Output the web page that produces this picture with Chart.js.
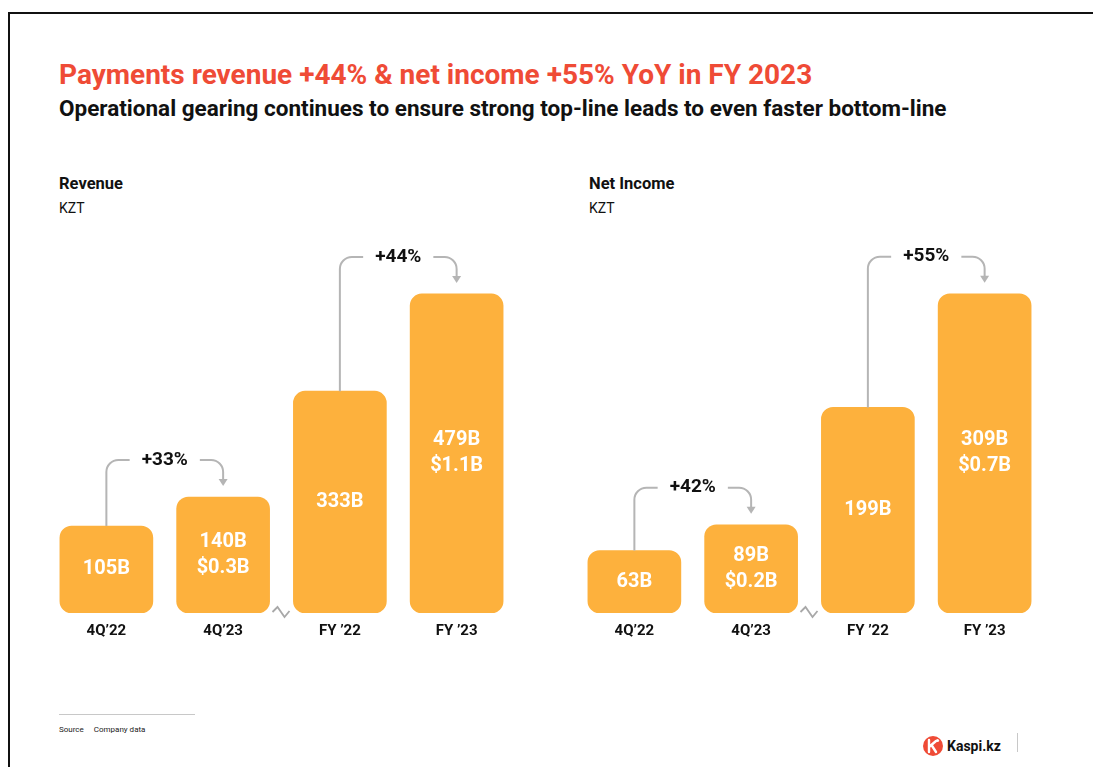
<!DOCTYPE html>
<html>
<head>
<meta charset="utf-8">
<script src="https://cdn.jsdelivr.net/npm/chart.js@4.4.0/dist/chart.umd.min.js"></script>
<style>
    body {
        margin: 0;
        width: 1093px;
        height: 767px;
        position: relative;
        overflow: hidden;
        background: #fff;
        font-family: Roboto, 'Noto Sans', sans-serif;
        color: #111;
    }
    .frame {
        position: absolute;
        left: 8px;
        top: 12px;
        width: 1100px;
        height: 770px;
        border-top: 2px solid #111;
        border-left: 2px solid #111;
    }
    .title {
        position: absolute;
        left: 59px;
        top: 59px;
        line-height: 32px;
        font-size: 28px;
        font-weight: 700;
        color: #ef4b36;
        white-space: nowrap;
    }
    .subtitle {
        position: absolute;
        left: 59px;
        top: 95px;
        line-height: 26px;
        font-size: 22.5px;
        font-weight: 700;
        white-space: nowrap;
    }
    .panel-head {
        position: absolute;
        top: 173px;
        font-size: 16.5px;
        line-height: 22px;
    }
    .panel-head b { display: block; }
    .panel-head span { display: block; font-size: 14px; margin-top: 2px; }
    .chart-box {
        position: absolute;
        top: 230px;
        width: 467px;
        height: 411px;
    }
    .footer-rule {
        position: absolute;
        left: 59px;
        top: 714px;
        width: 136px;
        height: 1px;
        background: #c8c8c8;
    }
    .source {
        position: absolute;
        left: 59px;
        top: 725px;
        font-size: 8px;
        line-height: 10px;
        color: #222;
    }
    .source span { margin-left: 10px; }
    .brand {
        position: absolute;
        left: 923px;
        top: 736px;
        height: 20px;
        display: flex;
        align-items: center;
        font-size: 14px;
        font-weight: 700;
    }
    .brand svg { margin-right: 4px; }
    .brand-rule {
        position: absolute;
        left: 1017px;
        top: 733px;
        width: 1px;
        height: 19px;
        background: #c8c8c8;
    }
</style>
</head>
<body>
<div class="frame"></div>
<div class="title">Payments revenue +44% &amp; net income +55% YoY in FY 2023</div>
<div class="subtitle">Operational gearing continues to ensure strong top-line leads to even faster bottom-line</div>

<div class="panel-head" style="left:59px"><b>Revenue</b><span>KZT</span></div>
<div class="panel-head" style="left:589px"><b>Net Income</b><span>KZT</span></div>

<div class="chart-box" style="left:48px"><canvas id="revenue-chart"></canvas></div>
<div class="chart-box" style="left:576px"><canvas id="income-chart"></canvas></div>

<div class="footer-rule"></div>
<div class="source">Source<span>Company data</span></div>
<div class="brand">
    <svg width="20" height="20" viewBox="0 0 20 20">
        <circle cx="10" cy="10" r="10" fill="#ef4b36"/>
        <path d="M6 4 L6 16 M6 11 L13 5 M8.5 9 L13 16" stroke="#fff" stroke-width="2.4" fill="none" stroke-linecap="round"/>
        <circle cx="14.5" cy="4.5" r="1.6" fill="#fff"/>
    </svg>
    Kaspi.kz
</div>
<div class="brand-rule"></div>

<script>
// Periods on the x axis (quarters first, then full years)
const periods = ['4Q\u201922', '4Q\u201923', 'FY \u201922', 'FY \u201923'];

// KZT billions
const revenue = [105, 140, 333, 479];
const netIncome = [63, 89, 199, 309];

// USD equivalents shown under the current-year bars
const revenueUsd = [null, '$0.3B', null, '$1.1B'];
const netIncomeUsd = [null, '$0.2B', null, '$0.7B'];

// YoY growth callouts: [from index, to index, label]
const revenueGrowth = [[0, 1, '+33%'], [2, 3, '+44%']];
const netIncomeGrowth = [[0, 1, '+42%'], [2, 3, '+55%']];

const barColor = '#fdb13d';
const connectorColor = '#b5b5b5';

// Quarterly and yearly bars sit on separate (broken) scales
function splitSeries(values) {
    return {
        quarter: values.map((v, i) => (i < 2 ? v : null)),
        year: values.map((v, i) => (i >= 2 ? v : null)),
    };
}

function barAt(chart, index) {
    for (let d = 0; d < chart.data.datasets.length; d++) {
        if (chart.data.datasets[d].data[index] != null) {
            return chart.getDatasetMeta(d).data[index];
        }
    }
    return null;
}

const barLabels = {
    id: 'barLabels',
    afterDatasetsDraw(chart, args, opts) {
        const ctx = chart.ctx;
        ctx.save();
        ctx.fillStyle = '#fff';
        ctx.font = 'bold 20px Roboto';
        ctx.textAlign = 'center';
        ctx.textBaseline = 'middle';
        chart.data.datasets.forEach((ds, d) => {
            chart.getDatasetMeta(d).data.forEach((bar, i) => {
                if (ds.data[i] == null) return;
                const lines = [ds.data[i] + 'B'];
                if (opts.usd[i]) lines.push(opts.usd[i]);
                const mid = (bar.y + bar.base) / 2;
                lines.forEach((text, k) => {
                    ctx.fillText(text, bar.x, mid + (k - (lines.length - 1) / 2) * 26);
                });
            });
        });
        ctx.restore();
    }
};

const growthArrows = {
    id: 'growthArrows',
    afterDatasetsDraw(chart, args, opts) {
        const ctx = chart.ctx;
        ctx.save();
        ctx.font = 'bold 19px Roboto';
        ctx.textAlign = 'center';
        ctx.textBaseline = 'middle';
        opts.pairs.forEach(([from, to, label]) => {
            const a = barAt(chart, from);
            const b = barAt(chart, to);
            const lineY = b.y - 37;
            const tipY = b.y - 11;
            const midX = (a.x + b.x) / 2;
            const gap = ctx.measureText(label).width / 2 + 12;
            const r = 12;

            ctx.strokeStyle = connectorColor;
            ctx.lineWidth = 2;
            ctx.beginPath();
            ctx.moveTo(a.x, a.y);
            ctx.lineTo(a.x, lineY + r);
            ctx.arcTo(a.x, lineY, a.x + r, lineY, r);
            ctx.lineTo(midX - gap, lineY);
            ctx.moveTo(midX + gap, lineY);
            ctx.lineTo(b.x - r, lineY);
            ctx.arcTo(b.x, lineY, b.x, lineY + r, r);
            ctx.lineTo(b.x, tipY - 6);
            ctx.stroke();

            ctx.fillStyle = connectorColor;
            ctx.beginPath();
            ctx.moveTo(b.x - 4.5, tipY - 7);
            ctx.lineTo(b.x + 4.5, tipY - 7);
            ctx.lineTo(b.x, tipY);
            ctx.closePath();
            ctx.fill();

            ctx.fillStyle = '#111';
            ctx.fillText(label, midX, lineY);
        });

        // axis break mark between the quarter and year groups
        const q = barAt(chart, 1);
        const y = barAt(chart, 2);
        const bx = (q.x + y.x) / 2;
        const by = chart.chartArea.bottom - 1;
        ctx.strokeStyle = '#a8a8a8';
        ctx.lineWidth = 1.8;
        ctx.beginPath();
        ctx.moveTo(bx - 9, by);
        ctx.lineTo(bx - 4, by - 5);
        ctx.lineTo(bx + 3, by + 5);
        ctx.lineTo(bx + 8, by - 1);
        ctx.stroke();
        ctx.restore();
    }
};

function createPanel(canvasId, values, usd, growth, quarterMax, yearMax) {
    const series = splitSeries(values);
    const ctx = document.getElementById(canvasId).getContext('2d');

    new Chart(ctx, {
        type: 'bar',
        data: {
            labels: periods,
            datasets: [
                {
                    data: series.quarter,
                    yAxisID: 'yQuarter',
                    backgroundColor: barColor,
                    borderRadius: 12,
                    borderSkipped: false,
                    barThickness: 93,
                    grouped: false,
                },
                {
                    data: series.year,
                    yAxisID: 'yYear',
                    backgroundColor: barColor,
                    borderRadius: 12,
                    borderSkipped: false,
                    barThickness: 93,
                    grouped: false,
                },
            ],
        },
        options: {
            responsive: true,
            maintainAspectRatio: false,
            animation: false,
            layout: { padding: { top: 10 } },
            scales: {
                x: {
                    grid: { display: false },
                    border: { display: false },
                    ticks: {
                        color: '#111',
                        padding: 1,
                        font: { family: 'Roboto', size: 15, weight: 'bold' },
                    },
                },
                yQuarter: { display: false, min: 0, max: quarterMax },
                yYear: { display: false, min: 0, max: yearMax },
            },
            plugins: {
                legend: { display: false },
                tooltip: { enabled: false },
                barLabels: { usd: usd },
                growthArrows: { pairs: growth },
            },
        },
        plugins: [barLabels, growthArrows],
    });
}

createPanel('revenue-chart', revenue, revenueUsd, revenueGrowth, 450, 560);
createPanel('income-chart', netIncome, netIncomeUsd, netIncomeGrowth, 376, 361);
</script>
</body>
</html>
